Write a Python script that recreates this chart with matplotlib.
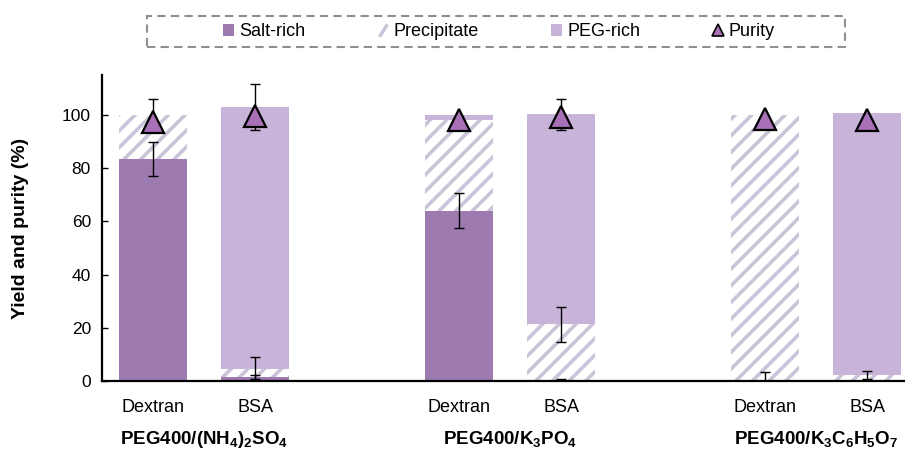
import matplotlib
matplotlib.use("Agg")
import matplotlib.pyplot as plt
from matplotlib.patches import Patch, Rectangle
from matplotlib.lines import Line2D
import numpy as np

plt.rcParams['font.family'] = ['Liberation Sans', 'DejaVu Sans']
plt.rcParams['mathtext.fontset'] = 'custom'
plt.rcParams['mathtext.rm'] = 'Liberation Sans:bold'
plt.rcParams['mathtext.default'] = 'rm'
plt.rcParams['hatch.linewidth'] = 2.6

# yields in each phase (%), stacked salt-rich -> precipitate -> PEG-rich
samples = ["Dextran", "BSA", "Dextran", "BSA", "Dextran", "BSA"]
groups = [r"PEG400/(NH$_4$)$_2$SO$_4$", r"PEG400/K$_3$PO$_4$",
          r"PEG400/K$_3$C$_6$H$_5$O$_7$"]
salt_rich = [83.5, 1.5, 64.0, 0.3, 0.0, 0.3]
precipitate = [16.5, 3.0, 34.3, 21.0, 100.0, 2.0]
peg_rich = [0.0, 98.5, 1.7, 79.0, 0.0, 98.3]
salt_err = [6.4, 0.7, 6.6, 0.3, 3.5, 0.0]
precip_err = [6.0, 4.5, 0.0, 6.6, 0.0, 1.4]
peg_err = [0.0, 8.7, 0.0, 5.8, 0.0, 0.0]
purity = [97.5, 99.5, 98.3, 99.2, 98.7, 98.0]

c_salt = "#9d7bb0"
c_peg = "#c8b4d9"
c_hatch = "#cac4d8"
c_tri = "#a770b7"

x = np.array([0, 1, 3, 4, 6, 7])
w = 0.67

fig = plt.figure(figsize=(9.05, 4.53), dpi=100)
ax = fig.add_axes([0.1127, 0.159, 0.8873, 0.675])

salt = np.array(salt_rich)
prec = np.array(precipitate)
peg = np.array(peg_rich)

ax.bar(x, salt, w, color=c_salt, linewidth=0, zorder=2)
ax.bar(x, prec, w, bottom=salt, facecolor="white", edgecolor=c_hatch,
       hatch="//", linewidth=0, zorder=2)
ax.bar(x, peg, w, bottom=salt + prec, color=c_peg, linewidth=0, zorder=2)

ekw = dict(fmt="none", ecolor="black", elinewidth=1.0, capsize=3.5,
           capthick=1.0, zorder=3)
for top, err in [(salt, salt_err), (salt + prec, precip_err),
                 (salt + prec + peg, peg_err)]:
    err = np.array(err)
    m = err > 0
    ax.errorbar(x[m], top[m], yerr=err[m], **ekw)

ax.plot(x, purity, linestyle="none", marker="^", markersize=16,
        markerfacecolor=c_tri, markeredgecolor="black",
        markeredgewidth=1.6, zorder=4)

ax.set_xlim(-0.5, 7.37)
ax.set_ylim(0, 115)
ax.set_yticks(range(0, 101, 20))
ax.tick_params(axis="y", direction="in", length=4, width=1,
               labelsize=12.5, pad=8)
ax.set_xticks(x)
ax.set_xticklabels(samples, fontsize=13)
ax.tick_params(axis="x", length=0, pad=13)
for s in ["top", "right"]:
    ax.spines[s].set_visible(False)
ax.spines["left"].set_linewidth(1.6)
ax.spines["bottom"].set_linewidth(1.6)
ax.set_ylabel("Yield and purity (%)", fontsize=14, fontweight="bold",
              labelpad=24)

for i, g in enumerate(groups):
    ax.text(x[2 * i] + 0.5, -22, g, ha="center", va="center",
            fontsize=13.5, fontweight="bold", transform=ax.transData)

# legend with a dashed box around it
fig.patches.append(Rectangle((147 / 905, 1 - 47 / 453), 698 / 905, 31 / 453,
                             transform=fig.transFigure, fill=False,
                             edgecolor="#8f8f8f", linestyle=(0, (4, 2.5)),
                             linewidth=1.5))
# a short diagonal stroke stands in for the hatched patch
handles = [Patch(facecolor=c_salt, linewidth=0),
           Line2D([], [], linestyle="none",
                  marker=[(-0.5, -0.8), (0.5, 0.8)], markersize=9,
                  markeredgecolor=c_hatch, markeredgewidth=2.5),
           Patch(facecolor=c_peg, linewidth=0),
           Line2D([], [], linestyle="none", marker="^", markersize=8,
                  markerfacecolor=c_tri, markeredgecolor="black",
                  markeredgewidth=1.2)]
fig.legend(handles, ["Salt-rich", "Precipitate", "PEG-rich", "Purity"],
           loc="center", bbox_to_anchor=(499 / 905, 1 - 32 / 453), ncol=4,
           frameon=False, fontsize=13, handlelength=0.6, handleheight=0.6,
           handletextpad=0.3, columnspacing=4.0)

fig.savefig("out.png", dpi=100)
